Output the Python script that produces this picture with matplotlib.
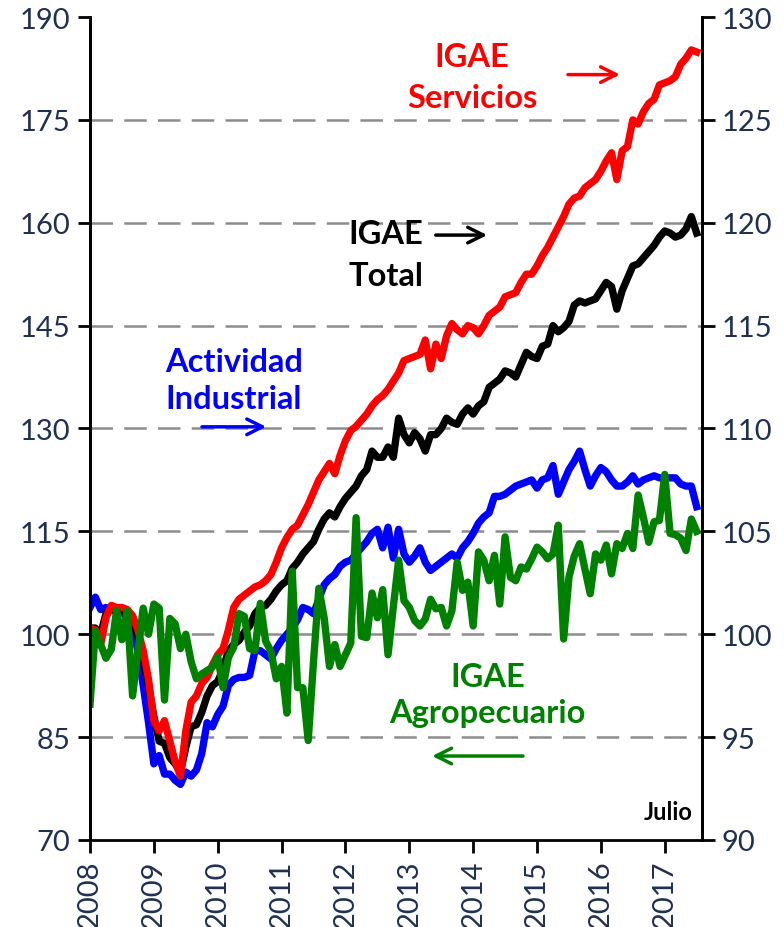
import numpy as np
import matplotlib
matplotlib.use('Agg')
import matplotlib.pyplot as plt

plt.rcParams['font.family'] = ['Lato', 'DejaVu Sans']

# monthly data, Jan 2008 - Jul 2017
years = ['2008', '2009', '2010', '2011', '2012', '2013', '2014', '2015', '2016', '2017']

# right axis (2008=100)
servicios = [
    100.3, 100.2, 99.5, 100.8, 101.4, 101.3, 101.3, 101.2, 100.9, 100.2,
    99.2, 97.8, 95.8, 95.3, 95.8, 94.8, 93.8, 93.1, 95.3, 96.7,
    97.0, 97.6, 97.9, 98.5, 99.0, 99.3, 100.2, 101.3, 101.7, 101.9,
    102.1, 102.3, 102.4, 102.6, 102.9, 103.5, 104.2, 104.7, 105.1, 105.3,
    105.8, 106.3, 106.9, 107.5, 107.9, 108.3, 107.8, 108.7, 109.4, 109.9,
    110.1, 110.4, 110.7, 111.1, 111.4, 111.6, 111.9, 112.3, 112.7, 113.3,
    113.4, 113.5, 113.6, 114.3, 112.9, 114.1, 113.4, 114.5, 115.1, 114.8,
    114.6, 115.0, 114.9, 114.6, 115.0, 115.5, 115.7, 115.9, 116.4, 116.5,
    116.6, 117.1, 117.5, 117.5, 117.9, 118.4, 118.8, 119.3, 119.8, 120.3,
    120.9, 121.2, 121.3, 121.7, 121.9, 122.1, 122.5, 123.0, 123.4, 122.1,
    123.5, 123.7, 125.0, 124.8, 125.4, 125.8, 126.0, 126.7, 126.8, 126.9,
    127.1, 127.7, 128.0, 128.4, 128.3]

total = [
    100.3, 100.3, 100.0, 101.0, 101.2, 101.1, 101.1, 101.0, 100.7, 99.9,
    98.8, 97.5, 96.0, 94.8, 94.7, 94.0, 93.7, 93.3, 94.5, 95.5,
    95.6, 96.2, 97.0, 97.5, 97.7, 98.3, 99.2, 99.5, 99.7, 100.1,
    100.4, 101.0, 101.3, 101.4, 101.7, 102.1, 102.4, 102.6, 103.2, 103.5,
    103.9, 104.2, 104.5, 105.1, 105.6, 105.9, 105.7, 106.2, 106.6, 106.9,
    107.2, 107.7, 108.0, 108.9, 108.6, 108.6, 109.1, 108.6, 110.5, 109.7,
    109.3, 109.8, 109.5, 108.9, 109.7, 109.7, 110.0, 110.5, 110.3, 110.2,
    110.7, 111.0, 110.7, 111.1, 111.3, 112.0, 112.2, 112.4, 112.8, 112.7,
    112.5, 113.1, 113.7, 113.5, 113.4, 114.0, 114.1, 115.0, 114.7, 114.9,
    115.2, 116.0, 116.2, 116.1, 116.2, 116.3, 116.7, 117.1, 116.9, 115.8,
    116.7, 117.3, 117.9, 118.0, 118.3, 118.6, 118.9, 119.3, 119.6, 119.5,
    119.3, 119.4, 119.7, 120.3, 119.5]

industrial = [
    101.3, 101.8, 101.2, 101.3, 101.2, 101.2, 101.1, 100.8, 100.3, 99.2,
    97.5, 95.7, 93.7, 94.1, 93.2, 93.2, 92.9, 92.7, 93.3, 93.1,
    93.4, 94.2, 95.7, 95.5, 96.1, 96.5, 97.5, 97.8, 97.9, 97.9,
    98.0, 99.2, 99.2, 99.0, 98.8, 99.3, 99.7, 100.0, 100.3, 100.7,
    101.3, 101.2, 101.0, 101.7, 102.4, 102.7, 102.9, 103.3, 103.5, 103.6,
    103.9, 104.2, 104.5, 104.9, 105.1, 104.2, 105.2, 103.7, 105.1, 103.9,
    103.5, 103.8, 104.2, 103.5, 103.1, 103.3, 103.5, 103.7, 103.9, 103.7,
    104.2, 104.5, 104.9, 105.4, 105.7, 105.9, 106.7, 106.7, 106.8, 107.0,
    107.2, 107.3, 107.4, 107.5, 107.1, 107.5, 107.6, 108.2, 106.8, 107.4,
    108.0, 108.4, 108.9, 108.0, 107.2, 107.7, 108.1, 107.9, 107.5, 107.2,
    107.2, 107.4, 107.7, 107.3, 107.5, 107.6, 107.7, 107.6, 107.6, 107.6,
    107.6, 107.3, 107.2, 107.2, 106.2]

# left axis
agropecuario = [
    89.8, 100.5, 98.5, 96.5, 97.8, 103.5, 99.2, 103.4, 91.0, 97.5,
    103.8, 100.0, 104.4, 103.8, 90.4, 102.3, 101.5, 97.9, 100.0, 96.0,
    93.5, 94.2, 94.7, 95.2, 96.7, 92.2, 96.6, 98.1, 103.0, 102.6,
    97.9, 97.6, 104.5, 99.0, 97.5, 93.5, 95.3, 88.5, 109.2, 92.2,
    92.2, 84.5, 96.0, 106.7, 102.4, 95.3, 98.5, 95.3, 97.0, 98.7,
    117.0, 99.7, 99.5, 106.0, 102.4, 106.5, 97.0, 104.0, 110.8, 104.9,
    103.9, 102.0, 101.2, 102.2, 105.1, 103.7, 103.9, 101.2, 103.4, 110.5,
    106.4, 107.6, 101.2, 112.0, 110.8, 107.8, 111.5, 104.4, 114.2, 108.3,
    107.8, 109.8, 109.5, 111.0, 112.7, 112.0, 111.0, 111.7, 115.9, 99.3,
    108.3, 111.4, 113.2, 109.5, 105.9, 111.7, 110.8, 113.0, 108.8, 113.2,
    112.5, 114.7, 112.5, 120.3, 117.0, 113.4, 116.4, 116.6, 123.3, 114.7,
    114.5, 114.0, 112.2, 116.8, 115.0]

months = np.arange(len(servicios))
tick_col = '#1F3050'

fig = plt.figure(figsize=(7.84, 9.28), dpi=100)
ax = fig.add_subplot(111)
fig.subplots_adjust(left=0.1148, right=0.8954, top=0.9806, bottom=0.0938)
ax2 = ax.twinx()

# right axis series go underneath, green on top
ax.set_zorder(ax2.get_zorder() + 1)
ax.patch.set_visible(False)

lw = 5.3
ax2.plot(months, industrial, color='#0000FF', lw=lw, solid_joinstyle='round')
ax2.plot(months, total, color='black', lw=lw, solid_joinstyle='round')
ax2.plot(months, servicios, color='#FF0000', lw=lw, solid_joinstyle='round')
ax.plot(months, agropecuario, color='#008000', lw=lw, solid_joinstyle='round')

ax.set_xlim(0, 115)
ax.set_ylim(70, 190)
ax2.set_ylim(90, 130)
ax.set_yticks(np.arange(70, 191, 15))
ax2.set_yticks(np.arange(90, 131, 5))
ax.set_xticks(np.arange(0, 115, 12))
ax.set_xticklabels(years, rotation=90)

# dashed grid (same positions on both axes)
for v in range(95, 130, 5):
    ax2.axhline(v, color='#8C8C8C', lw=1.8, dashes=(9, 4.5), zorder=0)

for a in (ax, ax2):
    a.spines['top'].set_visible(False)
    for s in ('left', 'right', 'bottom'):
        a.spines[s].set_linewidth(2)
    a.tick_params(direction='out', length=9, width=2, labelsize=21,
                  labelcolor=tick_col, pad=5)
ax2.spines['bottom'].set_visible(False)

tb = dict(fontweight='bold', fontsize=23.5)
ax.text(0.624, 0.927, 'IGAE\nServicios', color='#FF0000', ha='center', va='center',
        linespacing=1.53, transform=ax.transAxes, **tb)
ax.text(0.4216, 0.711, 'IGAE\nTotal', color='black', ha='left', va='center',
        linespacing=1.53, transform=ax.transAxes, **tb)
ax.text(0.235, 0.559, 'Actividad\nIndustrial', color='#0000FF', ha='center', va='center',
        linespacing=1.35, transform=ax.transAxes, **tb)
ax.text(0.650, 0.177, 'IGAE\nAgropecuario', color='#008000', ha='center', va='center',
        linespacing=1.28, transform=ax.transAxes, **tb)
ax.text(0.944, 0.035, 'Julio', color='black', ha='center', va='center',
        fontweight='bold', fontsize=17, transform=ax.transAxes)

# arrows pointing to the axis each series uses
arrows = [((0.781, 0.930), (0.866, 0.930), '#FF0000'),
          ((0.565, 0.735), (0.649, 0.735), 'black'),
          ((0.183, 0.502), (0.288, 0.502), '#0000FF'),
          ((0.7075, 0.102), (0.559, 0.102), '#008000')]
for start, end, c in arrows:
    ax.annotate('', xy=end, xytext=start, xycoords='axes fraction',
                arrowprops=dict(arrowstyle='->', color=c, lw=2.5,
                                mutation_scale=28, shrinkA=0, shrinkB=0))

plt.savefig('out.png', dpi=100)
